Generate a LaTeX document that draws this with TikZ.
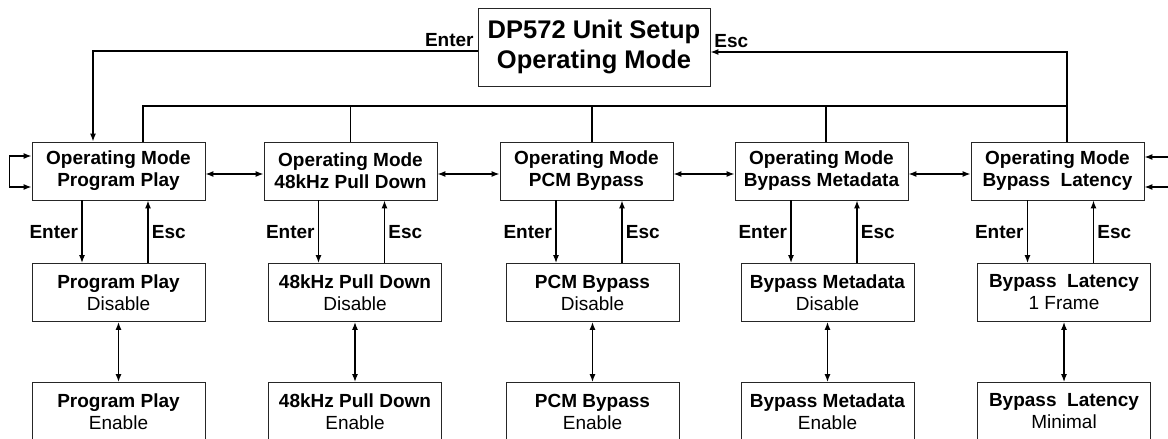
\documentclass[tikz,border=0pt]{standalone}
\usepackage{fontspec}
\setmainfont{Liberation Sans}
\usetikzlibrary{arrows.meta}

\begin{document}
\begin{tikzpicture}[x=1pt,y=-1pt,>={Latex[length=8pt,width=6pt]},
    box/.style={draw=black!85,line width=0.9pt,minimum width=173pt,minimum height=58pt,
        inner sep=0pt,align=center,font=\fontsize{19}{22}\selectfont},
    mode/.style={box,font=\fontsize{19}{22}\selectfont\bfseries},
    key/.style={font=\fontsize{19}{22}\selectfont\bfseries},
    wire/.style={line width=1.2pt},
    bus/.style={line width=1.8pt}]
    \useasboundingbox (0,0) rectangle (1168,439);
    % top menu
    \node[box,minimum width=232pt,minimum height=78pt,font=\fontsize{25.5}{30}\selectfont\bfseries]
        (unit) at (594,47) {DP572 Unit Setup\\Operating Mode};
    % operating modes
    \node[mode] (play) at (118.5,171) {Operating Mode\\Program Play};
    \node[mode] (pull) at (350.5,171) {Operating Mode\\48kHz Pull Down};
    \node[mode] (pcm)  at (586.5,171) {Operating Mode\\PCM Bypass};
    \node[mode] (meta) at (821.5,171) {Operating Mode\\Bypass Metadata};
    \node[mode] (lat)  at (1057.5,171) {Operating Mode\\Bypass\ \ Latency};
    % first settings
    \node[box] (playA) at (118.5,292.5) {\textbf{Program Play}\\Disable};
    \node[box] (pullA) at (355,292.5) {\textbf{48kHz Pull Down}\\Disable};
    \node[box] (pcmA)  at (592.5,292.5) {\textbf{PCM Bypass}\\Disable};
    \node[box] (metaA) at (827.5,292.5) {\textbf{Bypass Metadata}\\Disable};
    \node[box] (latA)  at (1064,292.5) {\textbf{Bypass\ \ Latency}\\1 Frame};
    % second settings
    \node[box] (playB) at (118.5,411.5) {\textbf{Program Play}\\Enable};
    \node[box] (pullB) at (355,411.5) {\textbf{48kHz Pull Down}\\Enable};
    \node[box] (pcmB)  at (592.5,411.5) {\textbf{PCM Bypass}\\Enable};
    \node[box] (metaB) at (827.5,411.5) {\textbf{Bypass Metadata}\\Enable};
    \node[box] (latB)  at (1064,411.5) {\textbf{Bypass\ \ Latency}\\Minimal};

    % top level enter / esc
    \draw[wire,->] (unit.west |- 0,51) node[above left,key] {Enter} -| ([xshift=-25.5pt]play.north);
    \draw[wire,->] ([xshift=9.5pt]lat.north) |- (unit.east |- 0,52) node[above right,key] {Esc};
    \draw[bus] ([xshift=24.5pt]play.north) |- ([xshift=9.5pt]lat.north |- 0,106);
    \draw[bus] (pull.north) -- (pull.north |- 0,106);
    \draw[bus] ([xshift=5.5pt]pcm.north) -- ([xshift=5.5pt]pcm.north |- 0,106);
    \draw[bus] ([xshift=4.5pt]meta.north) -- ([xshift=4.5pt]meta.north |- 0,106);

    % between modes
    \draw[wire,<->] ([yshift=-3pt]play.east) -- ([yshift=-3pt]pull.west);
    \draw[wire,<->] ([yshift=-3pt]pull.east) -- ([yshift=-3pt]pcm.west);
    \draw[wire,<->] ([yshift=-3pt]pcm.east) -- ([yshift=-3pt]meta.west);
    \draw[wire,<->] ([yshift=-3pt]meta.east) -- ([yshift=-3pt]lat.west);
    \draw[wire,<->] ([yshift=15pt]play.west) -- ++(-22,0) |- ([yshift=-16pt]play.west);
    \draw[wire,<-] ([yshift=14pt]lat.east) -- ++(30,0);
    \draw[wire,<-] ([yshift=-16pt]lat.east) -- ++(30,0);

    % enter / esc into each mode
    \draw[wire,->] ([xshift=-36.5pt]playA.north |- play.south) -- node[left,key] {Enter} ([xshift=-36.5pt]playA.north);
    \draw[wire,->] ([xshift=29.5pt]playA.north) -- node[right,key] {Esc} ([xshift=29.5pt]playA.north |- play.south);
    \draw[wire,->] ([xshift=-36.5pt]pullA.north |- pull.south) -- node[left,key] {Enter} ([xshift=-36.5pt]pullA.north);
    \draw[wire,->] ([xshift=29.5pt]pullA.north) -- node[right,key] {Esc} ([xshift=29.5pt]pullA.north |- pull.south);
    \draw[wire,->] ([xshift=-36.5pt]pcmA.north |- pcm.south) -- node[left,key] {Enter} ([xshift=-36.5pt]pcmA.north);
    \draw[wire,->] ([xshift=29.5pt]pcmA.north) -- node[right,key] {Esc} ([xshift=29.5pt]pcmA.north |- pcm.south);
    \draw[wire,->] ([xshift=-36.5pt]metaA.north |- meta.south) -- node[left,key] {Enter} ([xshift=-36.5pt]metaA.north);
    \draw[wire,->] ([xshift=29.5pt]metaA.north) -- node[right,key] {Esc} ([xshift=29.5pt]metaA.north |- meta.south);
    \draw[wire,->] ([xshift=-36.5pt]latA.north |- lat.south) -- node[left,key] {Enter} ([xshift=-36.5pt]latA.north);
    \draw[wire,->] ([xshift=29.5pt]latA.north) -- node[right,key] {Esc} ([xshift=29.5pt]latA.north |- lat.south);

    % settings
    \draw[wire,<->] (playA.south) -- (playB.north);
    \draw[wire,<->] (pullA.south) -- (pullB.north);
    \draw[wire,<->] (pcmA.south) -- (pcmB.north);
    \draw[wire,<->] (metaA.south) -- (metaB.north);
    \draw[wire,<->] (latA.south) -- (latB.north);
\end{tikzpicture}
\end{document}
